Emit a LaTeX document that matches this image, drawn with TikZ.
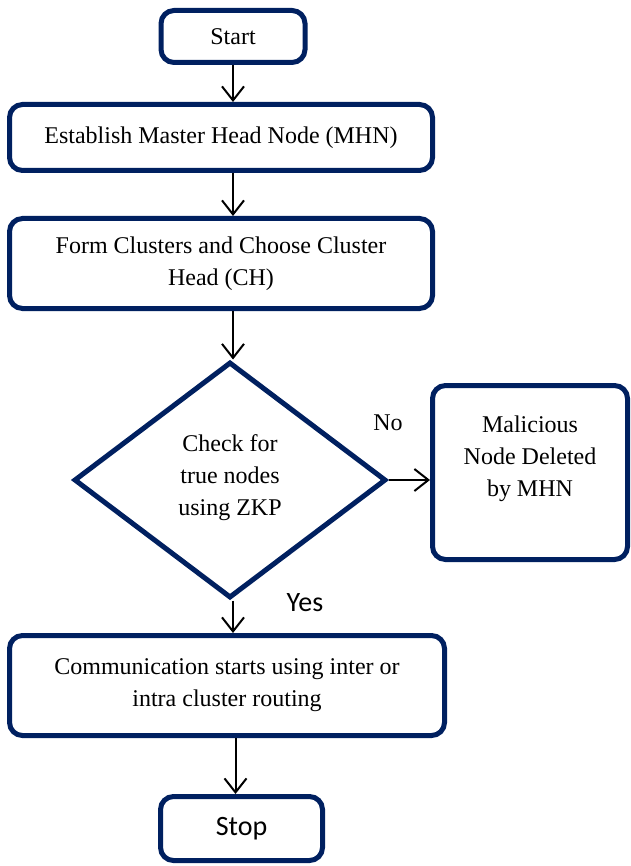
\documentclass[tikz,border=0pt]{standalone}
\usepackage{fontspec}
\setmainfont{Liberation Serif}
\newfontfamily\calibri{Carlito}
\usetikzlibrary{shapes.geometric,arrows.meta}
\definecolor{navy}{HTML}{002060}

\tikzset{
    box/.style={draw=navy, line width=5pt, rounded corners=13pt, align=center, inner sep=0pt,
        font=\fontsize{24}{32}\selectfont},
    decision/.style={diamond, draw=navy, line width=5pt, align=center, inner sep=0pt,
        font=\fontsize{24}{32}\selectfont},
    flow/.style={draw=black, line width=2pt, ->},
    sanslabel/.style={font=\calibri\fontsize{28}{34}\selectfont}
}

\begin{document}
\begin{tikzpicture}[x=1pt, y=-1pt, >={Straight Barb[length=14pt,width=22pt]}]
    \useasboundingbox (0,0) rectangle (630,866);
    % steps of the flow chart
    \node[box, minimum width=144pt, minimum height=52pt] (start) at (233,36.5) {Start};
    \node[box, minimum width=423pt, minimum height=66pt] (mhn) at (221,137.5) {Establish Master Head Node (MHN)};
    \node[box, minimum width=423pt, minimum height=90pt] (form) at (221,263.5) {Form Clusters and Choose Cluster\\Head (CH)};
    \node[decision, minimum width=312pt, minimum height=236pt] (zkp) at (230,480) {Check for\\true nodes\\using ZKP\\[-22pt]~};
    \node[box, minimum width=195pt, minimum height=174pt] (deleted) at (530,472.5) {Malicious\\Node Deleted\\by MHN\\~};
    \node[box, minimum width=435pt, minimum height=100pt] (comm) at (227,685.5) {Communication starts using inter or\\intra cluster routing};
    \node[box, sanslabel, minimum width=162pt, minimum height=64pt] (stop) at (241.5,828.5) {Stop};
    % branch labels
    \node[font=\fontsize{24}{32}\selectfont] (no) at (388,423) {No};
    \node[sanslabel] (yes) at (305,603) {Yes};
    % connectors
    \draw[flow] (start.south) -- (start.south |- mhn.north);
    \draw[flow] (mhn.south -| start.south) -- (form.north -| start.south);
    \draw[flow] (form.south -| start.south) -- (zkp.north -| start.south);
    \draw[flow] (zkp.south -| start.south) -- (comm.north -| start.south);
    \draw[flow] (comm.south -| stop.north) ++(-6,0) coordinate (commout) -- (commout |- stop.north);
    \draw[flow] (zkp.east) -- (zkp.east -| deleted.west);
\end{tikzpicture}
\end{document}
